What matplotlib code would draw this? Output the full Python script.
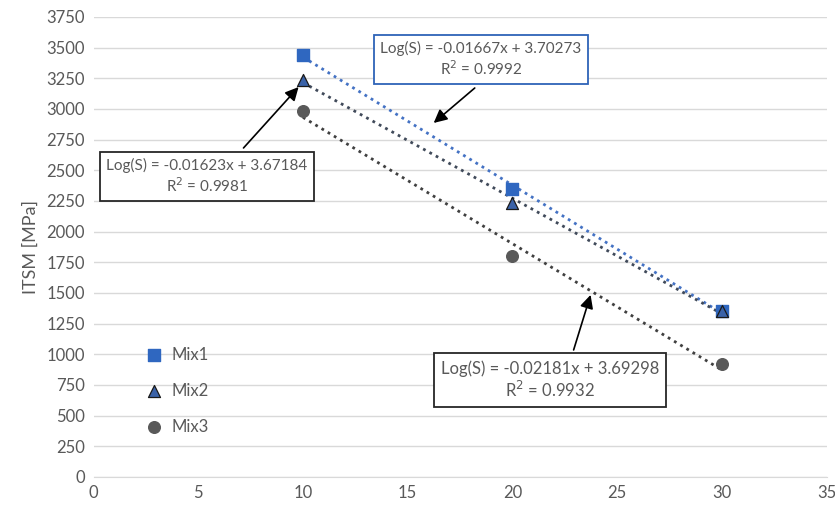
import numpy as np
import matplotlib
matplotlib.use("Agg")
import matplotlib.pyplot as plt

# temperature [°C] and ITSM [MPa]
temps = [10, 20, 30]
mix1 = [3440, 2345, 1352]
mix2 = [3235, 2232, 1350]
mix3 = [2980, 1805, 920]

eq1 = "Log(S) = -0.01667x + 3.70273\nR$^2$ = 0.9992"
eq2 = "Log(S) = -0.01623x + 3.67184\nR$^2$ = 0.9981"
eq3 = "Log(S) = -0.02181x + 3.69298\nR$^2$ = 0.9932"

plt.rcParams['font.family'] = ['Lato', 'DejaVu Sans']

fig = plt.figure(figsize=(8.35, 5.15), dpi=100)
ax = fig.add_axes([0.112, 0.074, 0.878, 0.893])

gray = '#595959'
x = np.array(temps)

# trendlines (dotted)
for y, col in [(mix1, '#4472C4'), (mix2, '#404a5a'), (mix3, '#404040')]:
    k, b = np.polyfit(x, y, 1)
    ax.plot(x, k * x + b, linestyle=(0, (1, 1.6)), color=col, lw=2, zorder=2)

ax.scatter(temps, mix1, marker='s', s=70, color='#2F67C0', label='Mix1', zorder=3)
ax.scatter(temps, mix2, marker='^', s=75, color='#3A62A8', edgecolors='#1a1a1a',
           linewidths=0.9, label='Mix2', zorder=4)
ax.scatter(temps, mix3, marker='o', s=70, color='#595959', label='Mix3', zorder=3)

ax.set_xlim(0, 35)
ax.set_ylim(0, 3750)
ax.set_xticks(range(0, 36, 5))
ax.set_yticks(range(0, 3751, 250))
ax.yaxis.grid(True, color='#d9d9d9', lw=1)
ax.set_axisbelow(True)
for s in ['top', 'right', 'left']:
    ax.spines[s].set_visible(False)
ax.spines['bottom'].set_color('#d9d9d9')
ax.tick_params(length=0, labelsize=12, colors=gray, pad=6)
ax.set_ylabel('ITSM [MPa]', fontsize=13, color=gray, labelpad=6)

leg = ax.legend(loc='lower left', bbox_to_anchor=(0.05, 0.077), frameon=False,
                fontsize=12, labelcolor=gray, handletextpad=0.1,
                labelspacing=1.2, borderaxespad=0)

# equation boxes
box_kw = dict(ha='center', va='center', color=gray, zorder=5)
ax.text(18.5, 3405, eq1, fontsize=11,
        bbox=dict(boxstyle='square,pad=0.4', fc='white', ec='#2E63B8', lw=1.3), **box_kw)
ax.text(5.42, 2452, eq2, fontsize=11,
        bbox=dict(boxstyle='square,pad=0.4', fc='white', ec='#262626', lw=1.3), **box_kw)
ax.text(21.8, 790, eq3, fontsize=12,
        bbox=dict(boxstyle='square,pad=0.4', fc='white', ec='#262626', lw=1.3), **box_kw)

# arrows pointing to the trendlines
arrows = [((18.2, 3171), (16.24, 2886)),
          ((7.16, 2682), (9.79, 3179)),
          ((22.92, 1035), (23.73, 1484))]
for tail, head in arrows:
    ax.annotate('', xy=head, xytext=tail,
                arrowprops=dict(arrowstyle='-|>', color='black', lw=1.2,
                                mutation_scale=20, shrinkA=0, shrinkB=0))

fig.savefig('out.png', dpi=100)
